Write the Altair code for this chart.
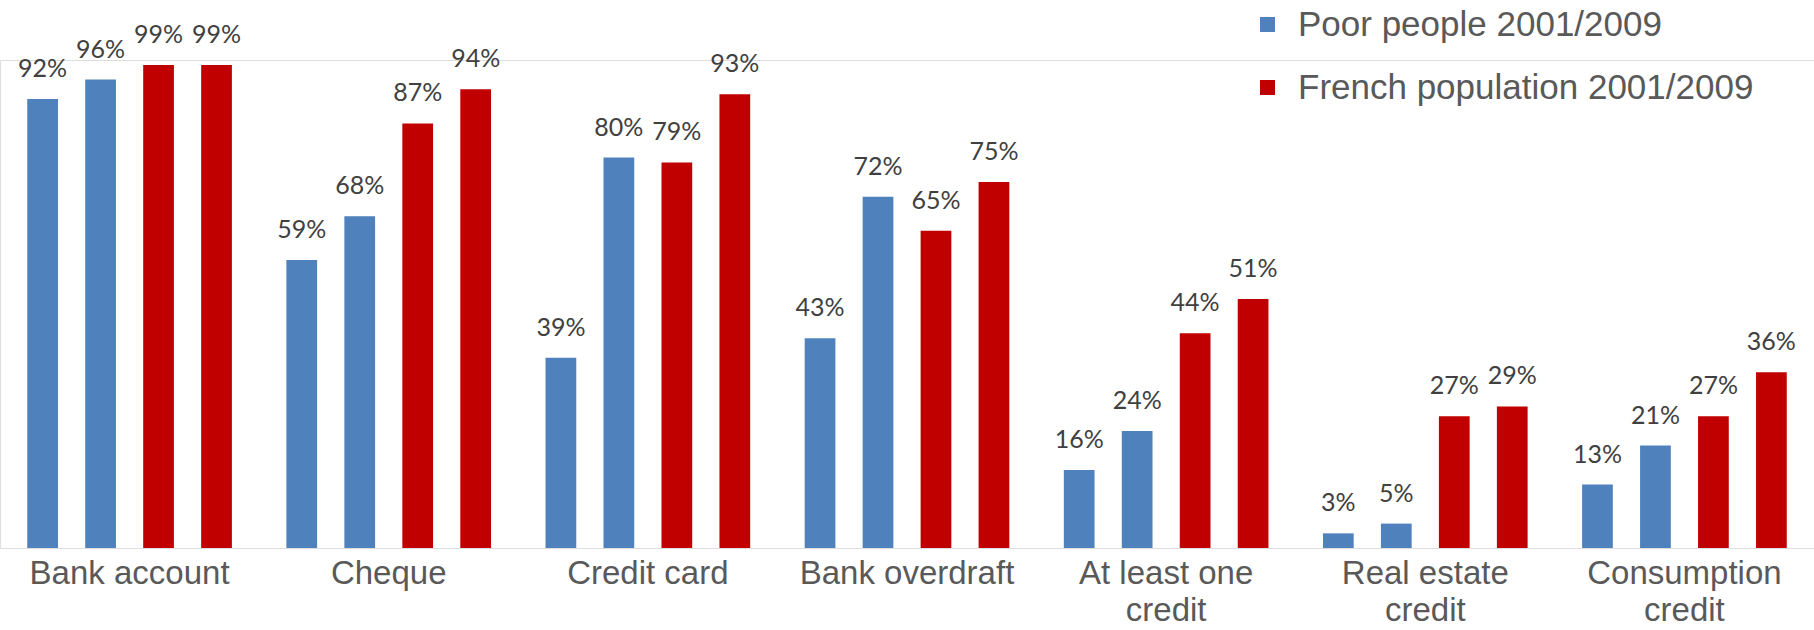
import altair as alt
import pandas as pd

categories = ["Bank account", "Cheque", "Credit card", "Bank overdraft",
              "At least one\ncredit", "Real estate\ncredit", "Consumption\ncredit"]
poor_2001 = [92, 59, 39, 43, 16, 3, 13]
poor_2009 = [96, 68, 80, 72, 24, 5, 21]
french_2001 = [99, 87, 79, 65, 44, 27, 27]
french_2009 = [99, 94, 93, 75, 51, 29, 36]
series_names = ["Poor people 2001/2009", "French population 2001/2009"]
bar_keys = ["Poor 2001", "Poor 2009", "French 2001", "French 2009"]
colors = ["#4F81BD", "#C00000"]

rows = []
for i, cat in enumerate(categories):
    for key, ser, vals in [
        (bar_keys[0], series_names[0], poor_2001),
        (bar_keys[1], series_names[0], poor_2009),
        (bar_keys[2], series_names[1], french_2001),
        (bar_keys[3], series_names[1], french_2009),
    ]:
        rows.append({"category": cat, "bar": key, "series": ser,
                     "value": vals[i], "label": f"{vals[i]}%"})
df = pd.DataFrame(rows)

x_enc = alt.X(
    "category:N", sort=categories,
    scale=alt.Scale(paddingInner=0, paddingOuter=0),
    axis=alt.Axis(title=None, domain=False, ticks=False, labelAngle=0,
                  labelFontSize=33, labelFont="Liberation Sans",
                  labelColor="#595959", labelPadding=9, labelLineHeight=37,
                  labelExpr="split(datum.label, '\\n')", labelLimit=400),
)
xoff = alt.XOffset("bar:N", sort=bar_keys,
                   scale=alt.Scale(paddingInner=0.47, paddingOuter=0.47))
y_enc = alt.Y("value:Q", scale=alt.Scale(domain=[0, 100]), axis=None)

base = alt.Chart(df)

bars = base.mark_bar().encode(
    x=x_enc, xOffset=xoff, y=y_enc,
    color=alt.Color(
        "series:N",
        scale=alt.Scale(domain=series_names, range=colors),
        legend=alt.Legend(
            title=None, orient="none", legendX=1250, legendY=-53,
            symbolType="square", symbolSize=225, symbolStrokeWidth=0,
            symbolOpacity=1, labelFontSize=35, labelFont="Liberation Sans",
            labelColor="#595959", labelOffset=13, rowPadding=27,
            labelLimit=700,
        ),
    ),
)

labels = base.mark_text(
    dy=-22, baseline="alphabetic", align="center",
    font="Lato", fontSize=25, color="#404040",
).encode(x=x_enc, xOffset=xoff, y=y_enc, text="label:N")

chart = (bars + labels).properties(
    width=1814, height=488,
    autosize=alt.AutoSizeParams(type="none"),
    padding={"left": 0, "top": 60, "right": 0, "bottom": 82},
).configure_view(stroke=None).configure(background="white")

chart.save("out.html", embed_options={"renderer": "svg", "actions": False})
